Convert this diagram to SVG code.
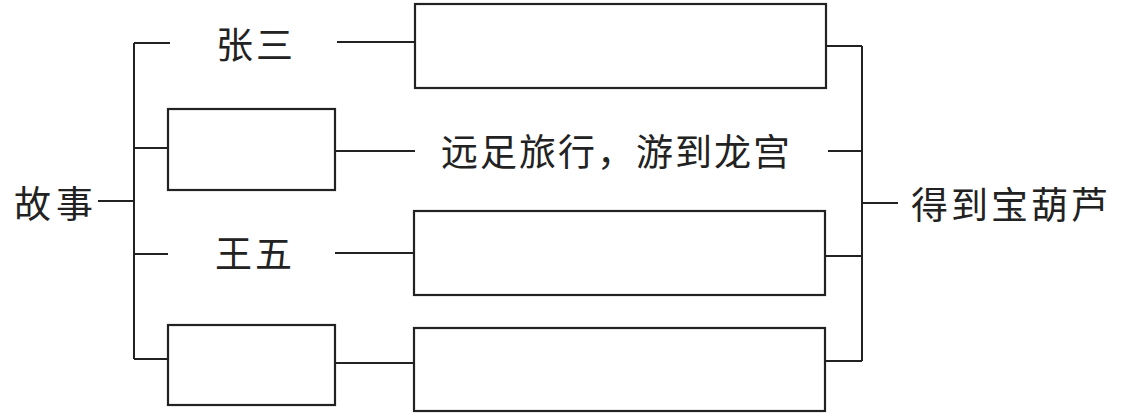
<svg xmlns="http://www.w3.org/2000/svg" width="1121" height="416" viewBox="0 0 1121 416">
<style>
.ln{stroke:#222;stroke-width:2;fill:none}
.bx{stroke:#222;stroke-width:2.2;fill:#fff}
.t{font-family:"Noto Sans CJK SC","Noto Sans CJK TC",sans-serif;font-size:37px;fill:#222}
</style>
<rect width="1121" height="416" fill="#fff"/>
<g id="connectors">
<path class="ln" d="M98 201H134M134 43V359M134 43H170M134 148H168M134 254H168M134 359H168"/>
<path class="ln" d="M337 42H415M335 151H415M335 253H414M335 363H414"/>
<path class="ln" d="M826 46H862M828 151H862M825 256H862M825 361H862M862 46V361M862 203H898"/>
</g>
<g id="n-story"><text class="t" x="14" y="218" textLength="79" lengthAdjust="spacing">故事</text></g>
<g id="n-zhangsan"><text class="t" x="216" y="59" textLength="77" lengthAdjust="spacing">张三</text></g>
<g id="n-box1"><rect class="bx" x="168" y="109" width="167" height="81"/></g>
<g id="n-wangwu"><text class="t" x="215" y="268" textLength="77" lengthAdjust="spacing">王五</text></g>
<g id="n-box2"><rect class="bx" x="168" y="325" width="167" height="80"/></g>
<g id="n-r1"><rect class="bx" x="415" y="4" width="411" height="84"/></g>
<g id="n-trip"><text class="t" x="441" y="166" textLength="349" lengthAdjust="spacing">远足旅行，游到龙宫</text></g>
<g id="n-r3"><rect class="bx" x="414" y="211" width="411" height="84"/></g>
<g id="n-r4"><rect class="bx" x="414" y="328" width="411" height="83"/></g>
<g id="n-result"><text class="t" x="911" y="219" textLength="197" lengthAdjust="spacing">得到宝葫芦</text></g>
</svg>
